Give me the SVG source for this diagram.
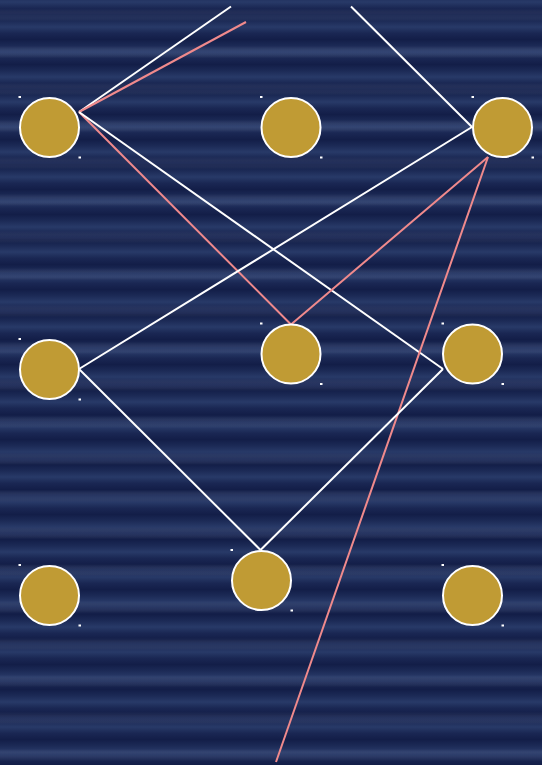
<svg xmlns="http://www.w3.org/2000/svg" width="542" height="765" viewBox="0 0 542 765">
<defs>
<linearGradient id="stripe" x1="0" y1="0" x2="0" y2="1">
<stop offset="0" stop-color="#283a68"/>
<stop offset="0.25" stop-color="#1a2753"/>
<stop offset="0.5" stop-color="#131e48"/>
<stop offset="0.75" stop-color="#1c2a56"/>
<stop offset="1" stop-color="#283a68"/>
</linearGradient>
<pattern id="bg" x="0" y="2" width="542" height="25" patternUnits="userSpaceOnUse">
<rect width="542" height="25" fill="url(#stripe)"/>
</pattern>
<linearGradient id="stripe2" x1="0" y1="0" x2="0" y2="1">
<stop offset="0" stop-color="#ffffff" stop-opacity="0"/>
<stop offset="0.5" stop-color="#6a7fb0" stop-opacity="0.15"/>
<stop offset="1" stop-color="#ffffff" stop-opacity="0"/>
</linearGradient>
<pattern id="bg2" x="0" y="9" width="542" height="37" patternUnits="userSpaceOnUse">
<rect width="542" height="12" fill="url(#stripe2)"/>
</pattern>
</defs>
<style>
.node circle{fill:#c09b34;stroke:#ffffff;stroke-width:2}
.node rect{fill:#ffffff}
.w{stroke:#ffffff;stroke-width:2;fill:none}
.p{stroke:#f08a8c;stroke-width:2;fill:none}
</style>
<rect width="542" height="765" fill="url(#bg)"/>
<rect width="542" height="765" fill="url(#bg2)"/>
<g id="connectors">
<line class="w" x1="79" y1="112" x2="231" y2="6.5"/>
<line class="p" x1="79" y1="112" x2="246" y2="22"/>
<line class="p" x1="79" y1="112" x2="291" y2="324.5"/>
<line class="w" x1="79" y1="112" x2="443" y2="369"/>
<line class="w" x1="472" y1="127" x2="351" y2="6.5"/>
<line class="w" x1="472" y1="127" x2="79" y2="369"/>
<line class="p" x1="488" y1="157" x2="291" y2="324.5"/>
<line class="p" x1="488" y1="157" x2="276" y2="762"/>
<line class="w" x1="79" y1="369" x2="260.5" y2="550"/>
<line class="w" x1="443" y1="369" x2="260.5" y2="550"/>
</g>
<g id="n1" class="node"><circle cx="49.5" cy="127.5" r="29.5"/><rect x="18.5" y="96" width="2.5" height="2"/><rect x="78.5" y="156.5" width="2.5" height="2"/></g>
<g id="n2" class="node"><circle cx="291" cy="127.5" r="29.5"/><rect x="260" y="96" width="2.5" height="2"/><rect x="320" y="156.5" width="2.5" height="2"/></g>
<g id="n3" class="node"><circle cx="502.5" cy="127.5" r="29.5"/><rect x="471.5" y="96" width="2.5" height="2"/><rect x="531.5" y="156.5" width="2.5" height="2"/></g>
<g id="n4" class="node"><circle cx="49.5" cy="369.5" r="29.5"/><rect x="18.5" y="338" width="2.5" height="2"/><rect x="78.5" y="398.5" width="2.5" height="2"/></g>
<g id="n5" class="node"><circle cx="291" cy="354" r="29.5"/><rect x="260" y="322.5" width="2.5" height="2"/><rect x="320" y="383" width="2.5" height="2"/></g>
<g id="n6" class="node"><circle cx="472.5" cy="354" r="29.5"/><rect x="441.5" y="322.5" width="2.5" height="2"/><rect x="501.5" y="383" width="2.5" height="2"/></g>
<g id="n7" class="node"><circle cx="49.5" cy="595.5" r="29.5"/><rect x="18.5" y="564" width="2.5" height="2"/><rect x="78.5" y="624.5" width="2.5" height="2"/></g>
<g id="n8" class="node"><circle cx="261.5" cy="580.5" r="29.5"/><rect x="230.5" y="549" width="2.5" height="2"/><rect x="290.5" y="609.5" width="2.5" height="2"/></g>
<g id="n9" class="node"><circle cx="472.5" cy="595.5" r="29.5"/><rect x="441.5" y="564" width="2.5" height="2"/><rect x="501.5" y="624.5" width="2.5" height="2"/></g>
</svg>
